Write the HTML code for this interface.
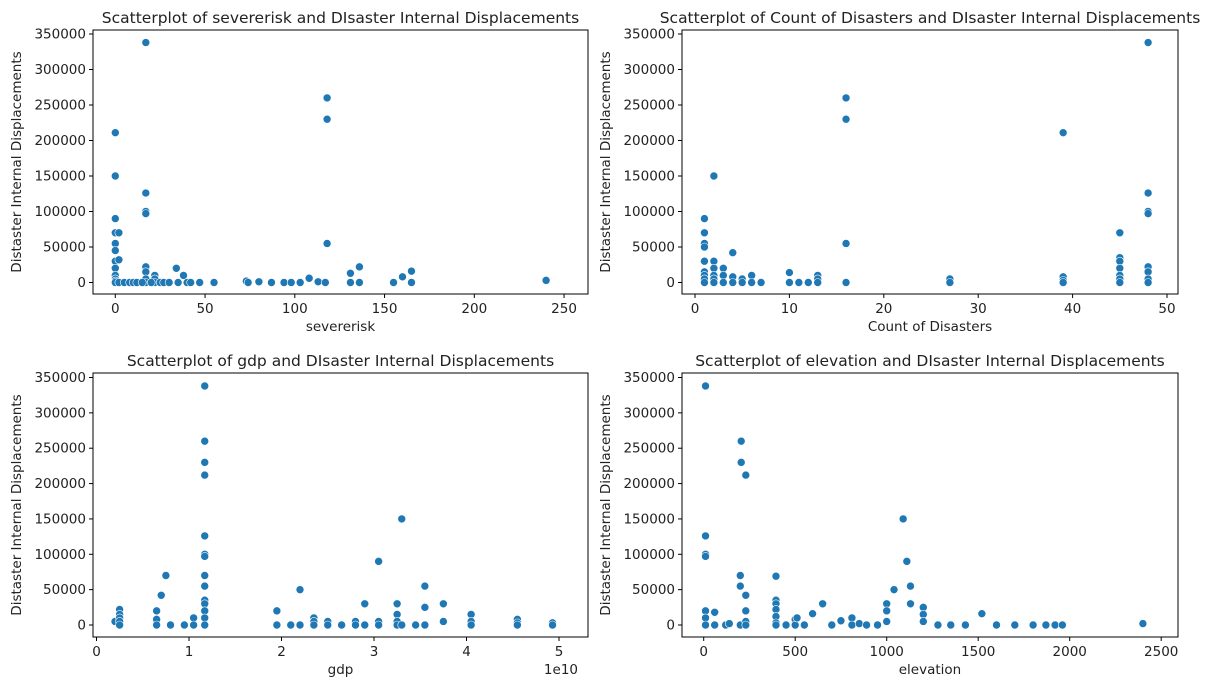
<!DOCTYPE html>
<html><head><meta charset="utf-8"><style>
body{margin:0;background:#fff;width:1225px;height:690px;overflow:hidden}
svg text{font-family:"DejaVu Sans","Liberation Sans",sans-serif;fill:#222}
</style></head><body>
<svg id="s" width="1225" height="690"></svg>
<script>
// Panel 1: severerisk
const sevX=[0,0,0,0,0,0,0,0,0,0,0,0,2,2,2,17,17,17,17,17,17,17,17,22,22,22,34,38,5,8,10,12,15,20,25,27,30,35,40,42,47,55,73,74,80,87,94,98,103,108,113,117,118,118,118,131,131,136,136,155,160,165,165,240];
const sevY=[150000,211000,90000,70000,55000,45000,30000,20000,10000,5000,2000,0,70000,32000,0,338000,126000,100000,97000,22000,15000,5000,0,10000,5000,0,20000,10000,0,0,0,0,0,0,0,0,0,0,0,0,0,0,2000,0,1000,0,0,0,0,6000,1000,0,260000,230000,55000,13000,0,22000,0,0,8000,16000,0,3000];
// Panel 2: count of disasters
const cntX=[1,1,1,1,1,1,1,1,1,2,2,2,2,2,2,3,3,3,4,4,4,5,5,6,6,7,10,10,11,12,13,13,13,16,16,16,16,27,27,39,39,39,39,45,45,45,45,45,45,45,48,48,48,48,48,48,48,48];
const cntY=[90000,70000,55000,50000,30000,15000,10000,5000,0,150000,30000,20000,10000,5000,0,20000,10000,0,42000,8000,0,5000,0,10000,0,0,14000,0,0,0,10000,5000,0,260000,230000,55000,0,5000,0,211000,8000,3000,0,70000,35000,30000,20000,10000,5000,0,338000,126000,100000,97000,22000,15000,5000,0];
// Panel 3: gdp (units of 1e10)
const gdpX=[0.2,0.25,0.25,0.25,0.25,0.25,0.65,0.65,0.65,0.7,0.75,0.8,0.95,1.05,1.05,1.17,1.17,1.17,1.17,1.17,1.17,1.17,1.17,1.17,1.17,1.17,1.17,1.17,1.17,1.95,1.95,2.1,2.2,2.2,2.35,2.35,2.35,2.5,2.5,2.65,2.8,2.8,2.9,2.9,3.05,3.05,3.05,3.25,3.25,3.25,3.25,3.3,3.3,3.45,3.55,3.55,3.55,3.75,3.75,4.05,4.05,4.05,4.55,4.55,4.55,4.93,4.93];
const gdpY=[5000,22000,15000,10000,5000,0,20000,8000,0,42000,70000,0,0,10000,0,338000,260000,230000,212000,126000,100000,97000,70000,55000,35000,30000,20000,10000,0,20000,0,0,50000,0,10000,5000,0,5000,0,0,5000,0,30000,0,90000,5000,0,30000,15000,5000,0,150000,0,0,55000,25000,0,30000,5000,15000,5000,0,8000,3000,0,3000,0];
// Panel 4: elevation
const elvX=[10,10,10,10,10,10,10,60,60,120,140,200,200,200,205,205,230,230,230,230,230,395,395,395,395,395,395,395,450,500,500,510,550,595,650,700,750,810,810,850,890,950,1000,1000,1000,1040,1090,1110,1130,1130,1200,1200,1200,1280,1350,1430,1520,1600,1700,1800,1870,1920,1960,2400];
const elvY=[338000,126000,100000,97000,20000,10000,0,18000,0,0,2000,70000,55000,0,260000,230000,212000,42000,20000,5000,0,69000,35000,30000,22000,12000,3000,0,0,8000,0,10000,0,16000,30000,0,6000,10000,0,2000,0,0,30000,20000,5000,50000,150000,90000,55000,30000,25000,15000,5000,0,0,0,16000,0,0,0,0,0,0,2000];

const yTicks=[0,50000,100000,150000,200000,250000,300000,350000];
const NS='http://www.w3.org/2000/svg';
const svg=document.getElementById('s');
function mk(t,a,p){const e=document.createElementNS(NS,t);for(const k in a)e.setAttribute(k,a[k]);(p||svg).appendChild(e);return e;}

const panels=[
 {id:'severerisk',L:93,R:588,T:30,B:294,x0:115.3,sx:1.795,y0:282.5,sy:248.5/350000,xs:sevX,ys:sevY,xt:[0,50,100,150,200,250],xl:'severerisk',title:'Scatterplot of severerisk and DIsaster Internal Displacements'},
 {id:'count',L:682,R:1178,T:30,B:294,x0:695,sx:9.44,y0:282.5,sy:248.5/350000,xs:cntX,ys:cntY,xt:[0,10,20,30,40,50],xl:'Count of Disasters',title:'Scatterplot of Count of Disasters and DIsaster Internal Displacements'},
 {id:'gdp',L:93,R:588,T:373,B:637,x0:96.5,sx:92.5,y0:625,sy:247.5/350000,xs:gdpX,ys:gdpY,xt:[0,1,2,3,4,5],xl:'gdp',title:'Scatterplot of gdp and DIsaster Internal Displacements',off:'1e10'},
 {id:'elevation',L:682,R:1178,T:373,B:637,x0:703.7,sx:0.183,y0:625,sy:247.5/350000,xs:elvX,ys:elvY,xt:[0,500,1000,1500,2000,2500],xl:'elevation',title:'Scatterplot of elevation and DIsaster Internal Displacements'}
];
panels.forEach(p=>{
 const g=mk('g',{});
 
 
 const X=v=>p.x0+v*p.sx, Y=v=>p.y0-v*p.sy;
 const t=mk('text',{x:(p.L+p.R)/2,y:p.T-7,'text-anchor':'middle','font-size':'15.5'},g);t.textContent=p.title;
 
 yTicks.forEach(v=>{
  mk('line',{x1:p.L-4,x2:p.L,y1:Y(v),y2:Y(v),stroke:'#000','stroke-width':1},g);
  const l=mk('text',{x:p.L-7,y:Y(v)+4.5,'text-anchor':'end','font-size':'13.5'},g);l.textContent=v;
  
 });
 p.xt.forEach(v=>{
  mk('line',{x1:X(v),x2:X(v),y1:p.B,y2:p.B+4,stroke:'#000','stroke-width':1},g);
  const l=mk('text',{x:X(v),y:p.B+19,'text-anchor':'middle','font-size':'13.5'},g);l.textContent=v;
  
 });
 const xl=mk('text',{x:(p.L+p.R)/2,y:p.B+37,'text-anchor':'middle','font-size':'13.5'},g);xl.textContent=p.xl;
 
 const yl=mk('text',{x:0,y:0,'text-anchor':'middle','font-size':'13.5',transform:`translate(${p.L-72},${(p.T+p.B)/2}) rotate(-90)`},g);yl.textContent='Distaster Internal Displacements';
 
 if(p.off){const o=mk('text',{x:p.R-10,y:p.B+37,'text-anchor':'end','font-size':'13.5'},g);o.textContent=p.off;
  }
 p.xs.forEach((xv,i)=>{
  const c=mk('circle',{cx:X(xv),cy:Y(p.ys[i]),r:4,fill:'#1f77b4',stroke:'#fff','stroke-width':0.6},g);
  
  
 });
 const f=mk('rect',{x:p.L,y:p.T,width:p.R-p.L,height:p.B-p.T,fill:'none',stroke:'#000','stroke-width':1},g);
 
});
</script>
</body></html>
